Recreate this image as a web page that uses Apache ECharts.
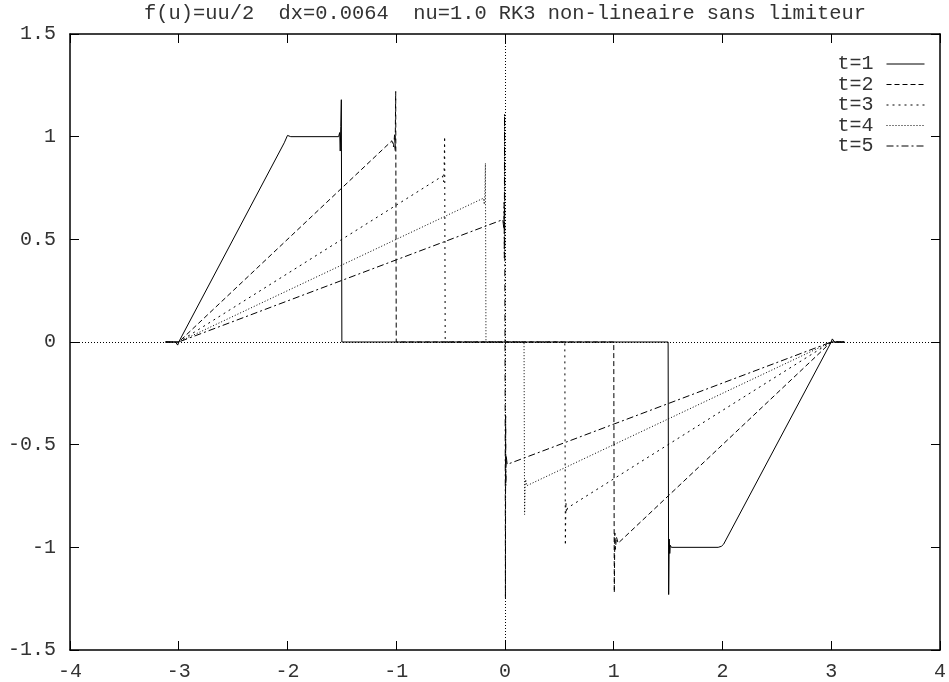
<!DOCTYPE html>
<html>
<head>
<meta charset="utf-8">
<script src="https://cdn.jsdelivr.net/npm/echarts@6/dist/echarts.min.js"></script>
<style>
html,body{margin:0;padding:0;background:#fff;}
#chart{width:949px;height:682px;}
</style>
</head>
<body>
<div id="chart"></div>
<script>
// ---- data ----
var titleText = 'f(u)=uu/2  dx=0.0064  nu=1.0 RK3 non-lineaire sans limiteur';
var seriesNames = ['t=1', 't=2', 't=3', 't=4', 't=5'];
var xTickLabels = ['-4', '-3', '-2', '-1', '0', '1', '2', '3', '4'];
var yTickLabels = ['-1.5', '-1', '-0.5', '0', '0.5', '1', '1.5'];

var t1 = [[-3.12,0],[-3.03,0],[-3.01,-0.015],[-2.995,0.005],[-2.03,0.97],[-2.0,1.006],[-1.97,1.0],
  [-1.53,1.0],[-1.52,1.02],[-1.515,0.93],[-1.51,1.05],[-1.505,1.18],[-1.5,0],
  [1.5,0],[1.505,-1.23],[1.51,-0.96],[1.515,-1.03],[1.52,-0.99],[1.53,-1.0],
  [1.96,-1.0],[1.99,-0.995],[2.01,-0.985],[2.995,-0.005],[3.01,0.015],[3.03,0],[3.12,0]];
var t2 = [[-3.12,0],[-3.0,0],[-1.04,0.98],[-1.025,0.95],[-1.015,1.01],[-1.01,0.93],[-1.005,1.22],[-1.0,0],
  [1.0,0],[1.005,-1.22],[1.01,-0.93],[1.015,-1.01],[1.025,-0.95],[1.04,-0.98],[3.0,0],[3.12,0]];
var t3 = [[-3.12,0],[-3.0,0],[-0.575,0.808],[-0.565,0.78],[-0.56,0.84],[-0.555,1.0],[-0.55,0],
  [0.55,0],[0.555,-0.99],[0.56,-0.78],[0.565,-0.83],[0.575,-0.808],[3.0,0],[3.12,0]];
var t4 = [[-3.12,0],[-3.0,0],[-0.2,0.70],[-0.19,0.67],[-0.185,0.72],[-0.18,0.87],[-0.175,0],
  [0.175,0],[0.18,-0.84],[0.185,-0.70],[0.19,-0.67],[0.2,-0.70],[3.0,0],[3.12,0]];
var t5 = [[-3.12,0],[-3.0,0],[-0.02,0.596],[-0.01,0.55],[-0.008,0.68],[-0.006,0.41],[-0.004,1.11],[-0.002,0.45],[0,0],
  [0.002,-0.45],[0.004,-1.25],[0.006,-0.36],[0.008,-0.70],[0.01,-0.55],[0.02,-0.596],[3.0,0],[3.12,0]];
var seriesData = [t1, t2, t3, t4, t5];

// ---- styles ----
var FONT = 'Liberation Mono';
var TEXT_COLOR = '#333';
var dashTypes = ['solid', [5,3], [2,4], [1,2], [7,3,2,3]];

var chart = echarts.init(document.getElementById('chart'), null, {renderer: 'canvas'});

function axisCommon(extra) {
  var base = {
    type: 'value',
    axisLine: {show: true, onZero: false, lineStyle: {color: '#000', width: 1.5}},
    axisTick: {show: true, inside: true, length: 9, lineStyle: {color: '#000', width: 1}},
    splitLine: {show: false}
  };
  for (var k in extra) base[k] = extra[k];
  return base;
}

var series = seriesNames.map(function (name, i) {
  return {
    name: name,
    type: 'line',
    xAxisIndex: 0,
    yAxisIndex: 0,
    data: seriesData[i],
    symbol: 'none',
    showSymbol: false,
    clip: true,
    lineStyle: {color: '#000', width: 1, type: dashTypes[i]},
    itemStyle: {color: '#000'},
    animation: false,
    z: 3
  };
});
series.push({
  name: 'zeroaxes',
  type: 'line',
  data: [],
  silent: true,
  markLine: {
    silent: true,
    symbol: ['none', 'none'],
    label: {show: false},
    lineStyle: {color: '#000', width: 1, type: [1, 2]},
    data: [{yAxis: 0}, {xAxis: 0}],
    animation: false
  },
  z: 1
});

var option = {
  backgroundColor: '#fff',
  animation: false,
  title: {
    text: titleText,
    left: 144,
    top: 4,
    padding: 0,
    textStyle: {fontFamily: FONT, fontSize: 20.4, fontWeight: 'normal', color: TEXT_COLOR}
  },
  legend: {
    data: seriesNames,
    orient: 'vertical',
    right: 24,
    top: 54,
    align: 'right',
    itemWidth: 38,
    itemHeight: 14,
    itemGap: 0.5,
    padding: 0,
    textStyle: {fontFamily: FONT, fontSize: 20, color: TEXT_COLOR, padding: [0, 8, 0, 0]},
    lineStyle: {width: 1, color: '#000'},
    itemStyle: {opacity: 0, borderWidth: 0}
  },
  grid: {left: 70, right: 4, top: 34, bottom: 32, containLabel: false},
  xAxis: [
    axisCommon({
      position: 'bottom', min: -4, max: 4, interval: 1,
      axisLabel: {show: true, margin: 12, fontFamily: FONT, fontSize: 20, color: TEXT_COLOR,
        formatter: function (v) { var s = String(v); return xTickLabels.indexOf(s) >= 0 ? s : ''; }}
    }),
    axisCommon({
      position: 'top', min: -4, max: 4, interval: 1,
      axisLabel: {show: false}
    })
  ],
  yAxis: [
    axisCommon({
      position: 'left', min: -1.5, max: 1.5, interval: 0.5,
      axisLabel: {show: true, margin: 14, fontFamily: FONT, fontSize: 20, color: TEXT_COLOR,
        formatter: function (v) { var s = String(v); return yTickLabels.indexOf(s) >= 0 ? s : ''; }}
    }),
    axisCommon({
      position: 'right', min: -1.5, max: 1.5, interval: 0.5,
      axisLabel: {show: false}
    })
  ],
  series: series
};
chart.setOption(option);
</script>
</body>
</html>
